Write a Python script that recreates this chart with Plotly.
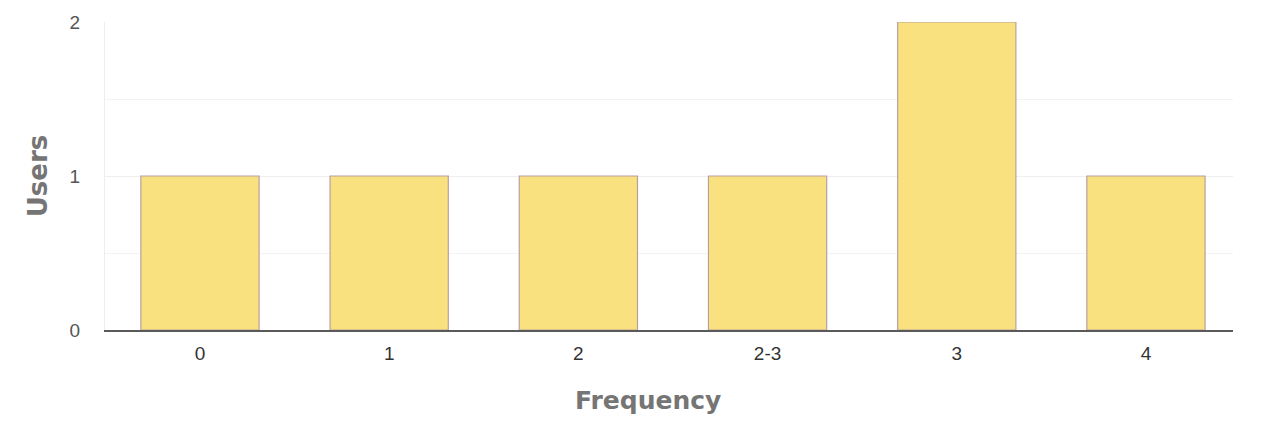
import plotly.graph_objects as go

# Users per reported frequency bucket
frequency = ["0", "1", "2", "2-3", "3", "4"]
users = [1, 1, 1, 1, 2, 1]

y_ticks = [0, 1, 2]

fig = go.Figure(
    go.Bar(
        x=frequency,
        y=users,
        width=0.625,
        marker=dict(color="#FAE17F", line=dict(color="#B9A0A0", width=1.2)),
        hoverinfo="x+y",
    )
)

fig.update_layout(
    width=1268,
    height=448,
    margin=dict(l=105, r=35, t=22, b=118),
    plot_bgcolor="white",
    paper_bgcolor="white",
    font=dict(family="Liberation Sans, Arial, sans-serif", color="#333333"),
    showlegend=False,
    annotations=[
        dict(
            text="<b>Frequency</b>",
            xref="paper", yref="paper",
            x=0.481, y=-0.23,
            xanchor="center", yanchor="middle",
            showarrow=False,
            font=dict(family="DejaVu Sans, sans-serif", size=25, color="#757575"),
        )
    ],
)

fig.update_xaxes(
    type="category",
    range=[-0.502, 5.46],
    showline=True,
    linecolor="#5A5A5A",
    linewidth=2,
    ticks="",
    ticklabelstandoff=5,
    tickfont=dict(size=19, color="#333333"),
    showgrid=False,
)

fig.update_yaxes(
    range=[0, 2],
    tickvals=y_ticks,
    ticktext=[str(v) for v in y_ticks],
    tickfont=dict(size=19, color="#555555"),
    ticklabelstandoff=20,
    showgrid=True,
    gridcolor="#EEEEEE",
    gridwidth=1,
    minor=dict(dtick=0.5, showgrid=True, gridcolor="#F3F3F3", gridwidth=1),
    showline=True,
    linecolor="#EEEEEE",
    linewidth=1,
    zeroline=False,
    title=dict(
        text="<b>Users</b>",
        font=dict(family="DejaVu Sans, sans-serif", size=26, color="#757575"),
        standoff=14,
    ),
)

fig.write_html("out.html")
